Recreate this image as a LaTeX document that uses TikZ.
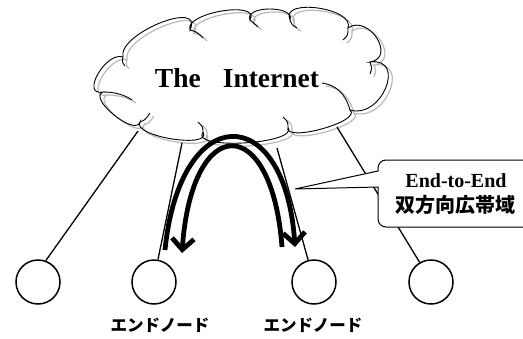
\documentclass[tikz,border=0pt]{standalone}
\usepackage{fontspec}
\setmainfont{Liberation Serif}
\newfontfamily\jpfont{Noto Sans CJK JP}
\usetikzlibrary{arrows.meta,calc}
\newcommand\cbump[3]{.. controls ($0.483*#1-0.817*#2+1.333*#3$) and ($0.483*#2-0.817*#1+1.333*#3$) .. #2}
\newcommand\cloudpath{%
  (103,92) \cbump{(103,92)}{(123,57)}{(98,74)}
  \cbump{(123,57)}{(190,30)}{(160,23)}
  \cbump{(190,30)}{(250,20)}{(222,11)}
  \cbump{(250,20)}{(290,20)}{(270,9)}
  \cbump{(290,20)}{(348,28)}{(318,8)}
  \cbump{(348,28)}{(370,62)}{(377,38)}
  \cbump{(370,62)}{(350,110)}{(386,88)}
  \cbump{(350,110)}{(288,127)}{(322,129)}
  \cbump{(288,127)}{(203,132)}{(245,143)}
  \cbump{(203,132)}{(140,122)}{(172,139)}
  \cbump{(140,122)}{(103,92)}{(114,115)} -- cycle
  (350,110) .. controls (345,92) and (335,85) .. (322,83)
  (288,127) .. controls (288,122) .. (283,117)
  (203,132) .. controls (203,127) .. (198,122)
  (140,122) .. controls (145,120) .. (150,113)
  (103,92) .. controls (115,92) and (125,95) .. (132,100)
  (123,57) .. controls (122,62) .. (125,66)
  (190,30) .. controls (197,32) .. (203,38)
  (250,20) .. controls (254,24) .. (258,27)
  (290,20) .. controls (292,25) .. (297,28)
  (348,28) .. controls (348,35) .. (343,40)
  (370,62) .. controls (372,68) .. (370,74)}
\tikzset{
  endnode/.style={circle,draw,line width=1.5pt,minimum size=44pt,inner sep=0pt},
  link/.style={line width=1.3pt},
  bigarc/.style={line width=4.8pt},
  tipV/.style={-{Straight Barb[length=11pt,width=22pt]}},
  jplabel/.style={font=\jpfont\bfseries\fontsize{16.5}{18}\selectfont,inner sep=0pt},
}
\begin{document}
\begin{tikzpicture}[x=1pt,y=-1pt]
\useasboundingbox (0,0) rectangle (523,338);
\clip (0,0) rectangle (523,338);
% cloud
\begin{scope}[shift={(4,3)}]
\draw[gray!55,line width=1.2pt] \cloudpath;
\end{scope}
\draw[black,line width=0.9pt] \cloudpath;
\node[font=\bfseries\fontsize{27.5}{30}\selectfont,inner sep=0pt] (inet) at (237,78) {The\hspace{22pt}Internet};
% end nodes
\node[endnode] (c1) at (38,282) {};
\node[endnode] (c2) at (154,282) {};
\node[endnode] (c3) at (314,282) {};
\node[endnode] (c4) at (431,282) {};
\coordinate (t1) at (138,131);
\coordinate (t2) at (182,143);
\coordinate (t3) at (277,148);
\coordinate (t4) at (337,127);
\draw[link] (t1) -- (c1.70);
\draw[link] (t2) -- (c2.80);
\draw[link] (t3) -- (c3.105);
\draw[link] (t4) -- (c4.120);
% labels
\node[jplabel] (l2) at (160,325) {エンドノード};
\node[jplabel] (l3) at (313,325) {エンドノード};
% callout
\draw[line width=1pt,fill=white] (295,189) -- (378,171) [rounded corners=8pt] -- (378,160) -- (535,160) -- (535,227) -- (378,227) [sharp corners] -- (378,187) -- cycle;
\node[font=\bfseries\fontsize{20}{22}\selectfont,inner sep=0pt] (e2e) at (456,181) {End-to-End};
\node[font=\jpfont\bfseries\fontsize{20}{22}\selectfont,inner sep=0pt] (bw) at (455,205) {双方向広帯域};
% arrows
\coordinate (oL) at (165,250);
\coordinate (oR) at (295,247);
\coordinate (iR) at (282,247);
\coordinate (iL) at (182,253);
\draw[bigarc,tipV] (oL) .. controls (180,100) and (285,100) .. (oR);
\draw[bigarc,tipV] (iR) .. controls (272,112) and (192,112) .. (iL);
\end{tikzpicture}
\end{document}
